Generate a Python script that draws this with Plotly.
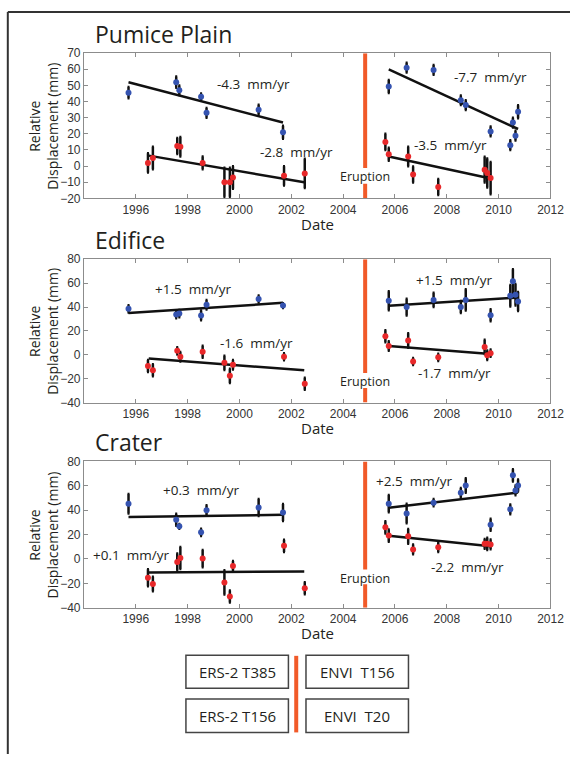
import plotly.graph_objects as go

# ---------------- data ----------------
PANELS = ["Pumice Plain", "Edifice", "Crater"]
Y_RANGES = [[-20, 70], [-40, 80], [-40, 80]]
Y_DTICKS = [10, 20, 20]
X_TICKS = [1996, 1998, 2000, 2002, 2004, 2006, 2008, 2010, 2012]
ERUPTION = 2004.85

# acquisition dates (decimal years)
ERS_BLUE_T = [1995.72, 1997.56, 1997.68, 1998.52, 1998.73, 2000.74, 2001.68]
ERS_RED_T = [1996.47, 1996.66, 1997.60, 1997.72, 1998.58, 1999.42, 1999.63, 1999.75, 2001.72, 2002.52]
ENVI_BLUE_T = [2005.76, 2006.45, 2007.49, 2008.54, 2008.73, 2009.69, 2010.45, 2010.55, 2010.65, 2010.75]
ENVI_RED_T = [2005.63, 2005.76, 2006.51, 2006.70, 2007.67, 2009.46, 2009.56, 2009.69]

# Pumice Plain
PP_ERS_BLUE = [45.5, 52, 47, 43, 33, 35, 21]
PP_ERS_BLUE_ERR = [3.5, 3.5, 3, 2, 3, 3, 4]
PP_ERS_RED = [2, 5, 12.5, 12, 2, -10, -10, -7, -6, -4.5]
PP_ERS_RED_ERR = [6, 7, 5, 6, 4, 9, 9, 7, 6, 9]
PP_ENVI_BLUE = [49.3, 61, 59.6, 40.8, 37.8, 21.5, 13, 27, 18.9, 33.7]
PP_ENVI_BLUE_ERR = [4, 3, 3, 3, 3, 3, 3, 3, 3, 4]
PP_ENVI_RED = [15, 7.4, 6, -5.2, -12.9, -2.2, -4.2, -7.4]
PP_ENVI_RED_ERR = [5, 4, 6, 5, 5, 8, 9, 10]

# Edifice
ED_ERS_BLUE = [38.5, 33.7, 34.5, 33, 42, 46.7, 41.2]
ED_ERS_BLUE_ERR = [3, 3, 3, 4, 4, 3, 2]
ED_ERS_RED = [-9.4, -13, 3.3, -1.6, 2.5, -6.7, -17.6, -8.3, -1.6, -24.3]
ED_ERS_RED_ERR = [5, 5, 3, 4, 5, 6, 6, 4, 3, 5]
ED_ENVI_BLUE = [45.3, 40, 46, 40, 46, 33.1, 49.4, 61.6, 50.3, 44.6]
ED_ENVI_BLUE_ERR = [8, 7, 6, 5, 9, 5, 9, 10, 9, 8]
ED_ENVI_RED = [15.5, 7.4, 12, -5.6, -2.1, 6.6, -0.3, 1.4]
ED_ENVI_RED_ERR = [5, 4, 6, 3, 3, 6, 4, 3]

# Crater
CR_ERS_BLUE = [45.4, 32.2, 26.8, 21.9, 40, 42.2, 38.1]
CR_ERS_BLUE_ERR = [8, 5, 2, 3, 4, 7, 7]
CR_ERS_RED = [-15.4, -20.5, -2.4, 0.8, 0.3, -19.2, -30.8, -5.7, 10.8, -24]
CR_ERS_RED_ERR = [7, 6, 7, 9, 7, 10, 5, 4, 5, 5]
CR_ENVI_BLUE = [45.4, 37.3, 46.2, 54.3, 60.3, 28.1, 40.8, 68.6, 56.2, 60.3]
CR_ENVI_BLUE_ERR = [7, 8, 3, 4, 6, 5, 4, 5, 4, 5]
CR_ENVI_RED = [26, 19.2, 18.6, 7.8, 9.7, 12.4, 12.4, 11.9]
CR_ENVI_RED_ERR = [5, 5, 6, 4, 4, 4, 5, 4]

# linear fits: [x0, y0, x1, y1] for (ERS blue, ERS red, ENVI blue, ENVI red)
FITS = [
    [[1995.72, 52, 2001.68, 27], [1996.5, 6.5, 2002.5, -10], [2005.76, 60, 2010.75, 23], [2005.76, 6, 2009.65, -7.5]],
    [[1995.72, 35, 2001.68, 43.5], [1996.5, -3, 2002.5, -13], [2005.76, 41, 2010.75, 48], [2005.76, 7.4, 2009.69, 0.7]],
    [[1995.72, 34.5, 2001.68, 36.3], [1996.5, -11, 2002.5, -10.2], [2005.76, 42, 2010.75, 54.5], [2005.76, 19, 2009.69, 10.5]],
]
RATES = [
    ["-4.3  mm/yr", "-2.8  mm/yr", "-7.7  mm/yr", "-3.5  mm/yr"],
    ["+1.5  mm/yr", "-1.6  mm/yr", "+1.5  mm/yr", "-1.7  mm/yr"],
    ["+0.3  mm/yr", "+0.1  mm/yr", "+2.5  mm/yr", "-2.2  mm/yr"],
]
LEGEND_LABELS = ["ERS-2 T385", "ERS-2 T156", "ENVI  T156", "ENVI  T20"]

DATA = [
    (PP_ERS_BLUE, PP_ERS_BLUE_ERR, PP_ERS_RED, PP_ERS_RED_ERR, PP_ENVI_BLUE, PP_ENVI_BLUE_ERR, PP_ENVI_RED, PP_ENVI_RED_ERR),
    (ED_ERS_BLUE, ED_ERS_BLUE_ERR, ED_ERS_RED, ED_ERS_RED_ERR, ED_ENVI_BLUE, ED_ENVI_BLUE_ERR, ED_ENVI_RED, ED_ENVI_RED_ERR),
    (CR_ERS_BLUE, CR_ERS_BLUE_ERR, CR_ERS_RED, CR_ERS_RED_ERR, CR_ENVI_BLUE, CR_ENVI_BLUE_ERR, CR_ENVI_RED, CR_ENVI_RED_ERR),
]

# ---------------- layout geometry (pixels) ----------------
W, H = 584, 761
X_LEFT, X_RIGHT = 86, 564
PANEL_PX = [(47, 195), (257, 403), (463, 612)]
# annotation positions (data coords) per panel: ERS blue, ERS red, ENVI blue, ENVI red
RATE_POS = [
    [(2000.55, 51), (2002.2, 8.5), (2009.7, 55), (2008.15, 13)],
    [(1998.2, 55), (2000.65, 10), (2008.27, 63), (2008.3, -15)],
    [(1998.5, 57), (1995.8, 3), (2006.75, 64), (2008.8, -6.5)],
]
ERUPT_LABEL_Y = [-6.6, -22, -16]
ERUPT_GAP = [(-1.2, -10.9), (-15.3, -27.7), (-8.6, -20.7)]

BLUE = "#3553b0"
RED = "#e8282a"
ORANGE = "#f15a29"
TXT = "#231f20"
TEXTFONT = "Open Sans"
TICKFONT = "Liberation Sans"


def px(x):
    return x / W


def py(y):
    return 1 - y / H


def note(**kw):
    base = dict(showarrow=False, xanchor="center", yanchor="middle")
    base.update(kw)
    return base


fig = go.Figure()
layout = dict(
    width=W, height=H, margin=dict(l=0, r=0, t=0, b=0),
    paper_bgcolor="white", plot_bgcolor="white", showlegend=False,
)
annotations = []
shapes = []

for i, name in enumerate(PANELS):
    n = "" if i == 0 else str(i + 1)
    xa, ya = "x" + n, "y" + n
    top, bot = PANEL_PX[i]
    axis_common = dict(
        showgrid=False, zeroline=False, showline=True, linecolor="#8c8c8c", linewidth=1,
        mirror="allticks", ticks="inside", ticklen=4, tickcolor="#8c8c8c",
        tickfont=dict(family=TICKFONT, size=12, color="#333333"),
    )
    layout["xaxis" + n] = dict(
        axis_common, domain=[px(X_LEFT), px(X_RIGHT)], range=[1994, 2012],
        tickvals=X_TICKS, ticktext=[str(t) for t in X_TICKS], anchor=ya,
    )
    layout["yaxis" + n] = dict(
        axis_common, domain=[py(bot), py(top)], range=Y_RANGES[i],
        dtick=Y_DTICKS[i], tick0=0, anchor=xa,
    )

    d = DATA[i]
    series = [
        (ERS_BLUE_T, d[0], d[1], BLUE),
        (ERS_RED_T, d[2], d[3], RED),
        (ENVI_BLUE_T, d[4], d[5], BLUE),
        (ENVI_RED_T, d[6], d[7], RED),
    ]
    for f in FITS[i]:
        fig.add_trace(go.Scatter(
            x=[f[0], f[2]], y=[f[1], f[3]], mode="lines",
            line=dict(color="#111111", width=2.5), xaxis=xa, yaxis=ya, hoverinfo="skip",
        ))
    for t, v, e, c in series:
        fig.add_trace(go.Scatter(
            x=t, y=v, mode="markers", xaxis=xa, yaxis=ya,
            marker=dict(color=c, size=6, symbol="circle"),
            error_y=dict(type="data", array=e, color="#111111", thickness=2.5, width=1),
        ))

    # eruption line with gap for label
    g_hi, g_lo = ERUPT_GAP[i]
    yr = Y_RANGES[i]
    for y0, y1 in [(g_hi, yr[1]), (yr[0], g_lo)]:
        shapes.append(dict(type="line", xref=xa, yref=ya, x0=ERUPTION, x1=ERUPTION,
                           y0=y0, y1=y1, line=dict(color=ORANGE, width=4), layer="below"))
    annotations.append(note(x=ERUPTION, y=ERUPT_LABEL_Y[i], xref=xa, yref=ya, text="Eruption",
                            font=dict(family=TEXTFONT, size=12.5, color=TXT)))

    for (ax_, ay_), txt in zip(RATE_POS[i], RATES[i]):
        annotations.append(note(x=ax_, y=ay_, xref=xa, yref=ya, text=txt,
                                font=dict(family=TEXTFONT, size=13.5, color=TXT)))

    # panel title
    annotations.append(note(x=px(95), y=py(top - 20), xref="paper", yref="paper", text=name,
                            xanchor="left", font=dict(family=TEXTFONT, size=23, color=TXT)))
    # x title
    annotations.append(note(x=px(325), y=py(bot + 26), xref="paper", yref="paper", text="Date",
                            font=dict(family=TEXTFONT, size=15, color=TXT)))
    # y title
    annotations.append(note(x=px(45), y=py((top + bot) / 2), xref="paper", yref="paper",
                            text="Relative<br>Displacement (mm)", textangle=-90,
                            font=dict(family=TEXTFONT, size=14, color=TXT)))

# outer frame (left + top)
shapes.append(dict(type="line", xref="paper", yref="paper", x0=px(8), x1=px(8), y0=0, y1=py(5),
                   line=dict(color="#333333", width=2)))
shapes.append(dict(type="line", xref="paper", yref="paper", x0=px(8), x1=1, y0=py(5), y1=py(5),
                   line=dict(color="#333333", width=2)))

# legend boxes
boxes = [(190.5, 660.5, 295.5, 694), (190.5, 705, 295.5, 739), (313.5, 660.5, 418.5, 694), (313.5, 705, 418.5, 739)]
for (x0, y0, x1, y1), lab in zip(boxes, LEGEND_LABELS):
    shapes.append(dict(type="rect", xref="paper", yref="paper", x0=px(x0), x1=px(x1), y0=py(y1), y1=py(y0),
                       line=dict(color="#444444", width=1.5), fillcolor="white"))
    annotations.append(note(x=px((x0 + x1) / 2), y=py((y0 + y1) / 2), xref="paper", yref="paper",
                            text=lab, font=dict(family=TEXTFONT, size=15, color=TXT)))
shapes.append(dict(type="line", xref="paper", yref="paper", x0=px(303.5), x1=px(303.5), y0=py(739), y1=py(661),
                   line=dict(color=ORANGE, width=4)))

layout["annotations"] = annotations
layout["shapes"] = shapes
fig.update_layout(**layout)
fig.write_html("out.html")
